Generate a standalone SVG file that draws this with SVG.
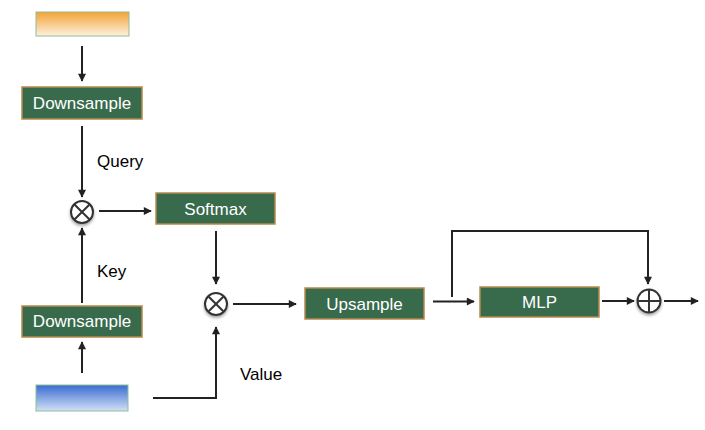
<svg xmlns="http://www.w3.org/2000/svg" width="705" height="430" viewBox="0 0 705 430">
<style>
.box{fill:#386a4c;stroke:#b8894c;stroke-width:1.5}
.bt{font-family:"Liberation Sans",Arial,sans-serif;font-size:17px;fill:#ffffff;text-anchor:middle}
.lbl{font-family:"Liberation Sans",Arial,sans-serif;font-size:17px;fill:#000000}
.ln{fill:none;stroke:#222222;stroke-width:2}
.op{fill:#ffffff;stroke:#333333;stroke-width:2}
.opl{stroke:#333333;stroke-width:2}
</style>
<defs>
<linearGradient id="gOrange" x1="0" y1="0" x2="0" y2="1">
<stop offset="0" stop-color="#f2a236"/>
<stop offset="1" stop-color="#fdf1de"/>
</linearGradient>
<linearGradient id="gBlue" x1="0" y1="0" x2="0" y2="1">
<stop offset="0" stop-color="#3a6cd0"/>
<stop offset="1" stop-color="#d3e0f6"/>
</linearGradient>
<marker id="arr" viewBox="0 0 10 10" refX="9" refY="5" markerWidth="4.4" markerHeight="4" orient="auto" markerUnits="strokeWidth">
<path d="M0,0 L10,5 L0,10 z" fill="#222222"/>
</marker>
<filter id="sh" x="-40%" y="-40%" width="180%" height="180%">
<feDropShadow dx="0" dy="2" stdDeviation="1.5" flood-color="#000" flood-opacity="0.35"/>
</filter>
</defs>

<g id="connectors">
<line class="ln" x1="82" y1="46" x2="82" y2="81" marker-end="url(#arr)"/>
<line class="ln" x1="82" y1="126" x2="82" y2="197" marker-end="url(#arr)"/>
<line class="ln" x1="82" y1="303" x2="82" y2="228" marker-end="url(#arr)"/>
<line class="ln" x1="82" y1="373" x2="82" y2="342" marker-end="url(#arr)"/>
<line class="ln" x1="99" y1="211" x2="151" y2="211" marker-end="url(#arr)"/>
<line class="ln" x1="216" y1="231" x2="216" y2="284" marker-end="url(#arr)"/>
<polyline class="ln" points="153,398 216,398 216,327" marker-end="url(#arr)"/>
<line class="ln" x1="233" y1="304" x2="296" y2="304" marker-end="url(#arr)"/>
<line class="ln" x1="433" y1="301.5" x2="474" y2="301.5" marker-end="url(#arr)"/>
<polyline class="ln" points="452,297 452,231 648,231 648,284" marker-end="url(#arr)"/>
<line class="ln" x1="602" y1="301" x2="634" y2="301" marker-end="url(#arr)"/>
<line class="ln" x1="664" y1="301" x2="698" y2="301" marker-end="url(#arr)"/>
</g>

<g id="input-top">
<rect x="36" y="12" width="93" height="24" fill="url(#gOrange)" stroke="#8fbf95" stroke-width="1"/>
</g>
<g id="input-bottom">
<rect x="36" y="385" width="92" height="26" fill="url(#gBlue)" stroke="#8fbf95" stroke-width="1"/>
</g>
<g id="downsample-top">
<rect class="box" x="22" y="87" width="120" height="32"/>
<text class="bt" x="82" y="109">Downsample</text>
</g>
<g id="downsample-bottom">
<rect class="box" x="22" y="306" width="120" height="31"/>
<text class="bt" x="82" y="327">Downsample</text>
</g>
<g id="softmax">
<rect class="box" x="156" y="193" width="119" height="31"/>
<text class="bt" x="215.5" y="214.5">Softmax</text>
</g>
<g id="upsample">
<rect class="box" x="305" y="288" width="119" height="31"/>
<text class="bt" x="364.5" y="309.5">Upsample</text>
</g>
<g id="mlp">
<rect class="box" x="480" y="287" width="119" height="30"/>
<text class="bt" x="539.5" y="308">MLP</text>
</g>
<g id="mul1">
<circle class="op" cx="82" cy="212" r="11" filter="url(#sh)"/>
<line class="opl" x1="74.2" y1="204.2" x2="89.8" y2="219.8"/>
<line class="opl" x1="89.8" y1="204.2" x2="74.2" y2="219.8"/>
</g>
<g id="mul2">
<circle class="op" cx="216" cy="304" r="11" filter="url(#sh)"/>
<line class="opl" x1="208.2" y1="296.2" x2="223.8" y2="311.8"/>
<line class="opl" x1="223.8" y1="296.2" x2="208.2" y2="311.8"/>
</g>
<g id="add">
<circle class="op" cx="649" cy="301" r="11.5" filter="url(#sh)"/>
<line class="opl" x1="637.5" y1="301" x2="660.5" y2="301"/>
<line class="opl" x1="649" y1="289.5" x2="649" y2="312.5"/>
</g>
<g id="labels">
<text class="lbl" x="97" y="167">Query</text>
<text class="lbl" x="97" y="277">Key</text>
<text class="lbl" x="240" y="380">Value</text>
</g>
</svg>
